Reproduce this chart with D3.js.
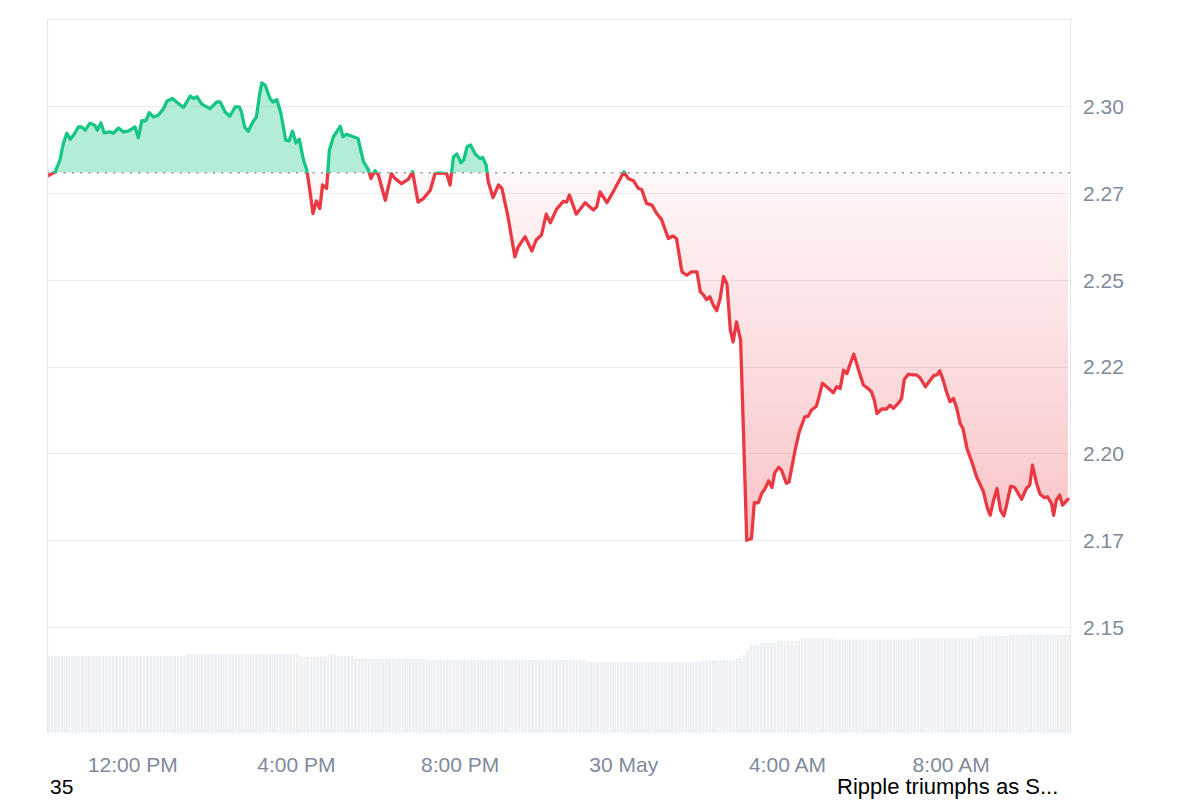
<!DOCTYPE html>
<html>
<head>
<meta charset="utf-8">
<script src="https://cdn.jsdelivr.net/npm/d3@7"></script>
<style>
  html, body { margin: 0; padding: 0; background: #ffffff; }
  svg { display: block; font-family: "Liberation Sans", Arial, Helvetica, sans-serif; }
</style>
</head>
<body>
<svg id="chart" width="1200" height="800"></svg>
<script>
// ---------------- DATA ----------------
const startTime = new Date(2025, 4, 29, 9, 55);   // 29 May, 09:55
const spanMinutes = 1500;
const refPrice = 2.2808;                          // dotted reference (open) price

// minutes after startTime
const minutes = [
  0, 12, 19, 24, 29, 34, 39, 46, 51, 56, 63, 70, 74, 79, 84, 92, 97, 105, 112, 119,
  129, 134, 139, 145, 150, 156, 163, 171, 176, 184, 190, 200, 210, 215, 220, 227, 239, 249, 254, 261,
  268, 276, 282, 285, 290, 295, 302, 307, 312, 315, 320, 327, 331, 337, 343, 350, 355, 360, 365, 370,
  376, 381, 386, 390, 395, 400, 404, 410, 414, 420, 430, 434, 439, 449, 456, 464, 471, 475, 481, 486,
  496, 505, 510, 520, 530, 536, 544, 552, 562, 569, 576, 586, 591, 596, 601, 607, 611, 616, 621, 628,
  635, 639, 644, 647, 654, 662, 667, 676, 686, 691, 701, 711, 717, 725, 732, 738, 747, 757, 762, 766,
  776, 789, 801, 806, 811, 821, 830, 846, 852, 860, 867, 872, 879, 887, 894, 901, 911, 918, 923, 931,
  938, 945, 953, 958, 962, 967, 972, 977, 982, 987, 992, 997, 1002, 1006, 1011, 1017, 1021, 1026, 1033, 1037,
  1043, 1048, 1053, 1058, 1063, 1067, 1073, 1077, 1084, 1088, 1097, 1103, 1111, 1116, 1121, 1128, 1132, 1137, 1146, 1153,
  1158, 1163, 1168, 1173, 1177, 1183, 1190, 1197, 1204, 1209, 1213, 1217, 1224, 1231, 1236, 1241, 1248, 1253, 1257, 1263,
  1270, 1275, 1280, 1288, 1295, 1300, 1305, 1309, 1314, 1319, 1324, 1329, 1334, 1339, 1343, 1349, 1356, 1363, 1373, 1379,
  1383, 1388, 1393, 1398, 1403, 1407, 1413, 1419, 1429, 1436, 1441, 1445, 1451, 1456, 1462, 1467, 1473, 1476, 1480, 1485,
  1489, 1497
];

// price (USD) at each time above
const prices = [
  2.2798, 2.2811, 2.2845, 2.2893, 2.2922, 2.2905, 2.2917, 2.2940, 2.2940, 2.2931, 2.2951, 2.2945, 2.2931, 2.2952, 2.2923, 2.2926, 2.2922, 2.2937, 2.2926, 2.2928,
  2.2940, 2.2909, 2.2958, 2.2958, 2.2981, 2.2969, 2.2974, 2.2993, 2.3015, 2.3022, 2.3012, 2.2996, 2.3029, 2.3022, 2.3027, 2.3006, 2.2993, 2.3012, 2.3012, 2.2984,
  2.2971, 2.2998, 2.2998, 2.2984, 2.2939, 2.2928, 2.2955, 2.2969, 2.3037, 2.3067, 2.3060, 2.3022, 2.3012, 2.3019, 2.2979, 2.2902, 2.2900, 2.2928, 2.2894, 2.2905,
  2.2845, 2.2816, 2.2749, 2.2691, 2.2727, 2.2705, 2.2773, 2.2763, 2.2873, 2.2912, 2.2942, 2.2912, 2.2919, 2.2912, 2.2907, 2.2840, 2.2818, 2.2792, 2.2814, 2.2801,
  2.2729, 2.2806, 2.2792, 2.2777, 2.2790, 2.2811, 2.2724, 2.2734, 2.2758, 2.2806, 2.2808, 2.2806, 2.2773, 2.2854, 2.2862, 2.2837, 2.2845, 2.2883, 2.2888, 2.2862,
  2.2849, 2.2852, 2.2830, 2.2782, 2.2737, 2.2773, 2.2763, 2.2681, 2.2566, 2.2595, 2.2624, 2.2583, 2.2614, 2.2629, 2.2689, 2.2664, 2.2703, 2.2726, 2.2724, 2.2744,
  2.2689, 2.2722, 2.2701, 2.2710, 2.2753, 2.2722, 2.2753, 2.2811, 2.2792, 2.2785, 2.2763, 2.2760, 2.2720, 2.2715, 2.2691, 2.2674, 2.2619, 2.2626, 2.2619, 2.2523,
  2.2513, 2.2523, 2.2523, 2.2465, 2.2458, 2.2443, 2.2451, 2.2427, 2.2411, 2.2446, 2.2509, 2.2488, 2.2355, 2.2321, 2.2379, 2.2326, 2.2077, 2.1750, 2.1755, 2.1858,
  2.1858, 2.1885, 2.1899, 2.1921, 2.1902, 2.1944, 2.1960, 2.1952, 2.1914, 2.1918, 2.2010, 2.2062, 2.2105, 2.2107, 2.2125, 2.2136, 2.2163, 2.2202, 2.2187, 2.2175,
  2.2192, 2.2187, 2.2240, 2.2230, 2.2254, 2.2286, 2.2240, 2.2197, 2.2187, 2.2177, 2.2154, 2.2115, 2.2128, 2.2128, 2.2139, 2.2130, 2.2144, 2.2158, 2.2213, 2.2228,
  2.2226, 2.2226, 2.2218, 2.2192, 2.2211, 2.2224, 2.2226, 2.2238, 2.2211, 2.2177, 2.2149, 2.2158, 2.2130, 2.2086, 2.2072, 2.2014, 2.1976, 2.1933, 2.1890, 2.1842,
  2.1822, 2.1866, 2.1899, 2.1837, 2.1820, 2.1851, 2.1906, 2.1902, 2.1868, 2.1899, 2.1909, 2.1966, 2.1914, 2.1883, 2.1873, 2.1875, 2.1856, 2.1822, 2.1866, 2.1880,
  2.1851, 2.1868
];

// 5-minute volume bars (billions), one row per hour starting at startTime
const volumes = [
  1.54,1.54,1.54,1.54,1.54,1.54,1.54,1.54,1.54,1.54,1.54,1.54,
  1.54,1.54,1.54,1.54,1.54,1.54,1.54,1.54,1.54,1.54,1.54,1.54,
  1.54,1.54,1.54,1.54,1.54,1.54,1.54,1.54,1.54,1.54,1.54,1.54,
  1.54,1.54,1.54,1.54,1.54,1.58,1.58,1.58,1.58,1.58,1.58,1.58,
  1.58,1.58,1.58,1.58,1.58,1.58,1.58,1.58,1.58,1.58,1.58,1.58,
  1.58,1.58,1.58,1.58,1.58,1.58,1.58,1.58,1.58,1.58,1.58,1.58,
  1.58,1.58,1.53,1.53,1.53,1.53,1.53,1.53,1.53,1.53,1.53,1.57,
  1.57,1.54,1.54,1.54,1.54,1.54,1.49,1.49,1.49,1.49,1.49,1.49,
  1.49,1.49,1.49,1.49,1.49,1.49,1.49,1.49,1.49,1.49,1.49,1.49,
  1.49,1.49,1.49,1.46,1.46,1.46,1.46,1.46,1.46,1.46,1.46,1.46,
  1.46,1.46,1.46,1.46,1.46,1.46,1.46,1.46,1.46,1.46,1.46,1.46,
  1.46,1.46,1.46,1.46,1.46,1.46,1.46,1.46,1.46,1.46,1.46,1.46,
  1.46,1.46,1.46,1.46,1.46,1.46,1.46,1.46,1.46,1.46,1.46,1.46,
  1.46,1.46,1.42,1.42,1.42,1.42,1.42,1.42,1.42,1.42,1.42,1.42,
  1.42,1.42,1.42,1.42,1.42,1.42,1.42,1.42,1.42,1.42,1.42,1.42,
  1.42,1.42,1.42,1.42,1.42,1.42,1.42,1.42,1.42,1.42,1.42,1.42,
  1.45,1.45,1.45,1.45,1.45,1.45,1.45,1.45,1.45,1.45,1.50,1.50,
  1.56,1.66,1.76,1.76,1.76,1.81,1.81,1.81,1.81,1.81,1.85,1.85,
  1.85,1.85,1.85,1.85,1.85,1.89,1.89,1.89,1.89,1.89,1.89,1.89,
  1.89,1.89,1.89,1.87,1.87,1.87,1.87,1.87,1.87,1.87,1.87,1.87,
  1.87,1.87,1.87,1.87,1.87,1.87,1.87,1.87,1.87,1.87,1.87,1.87,
  1.87,1.87,1.89,1.89,1.89,1.89,1.89,1.89,1.89,1.89,1.89,1.89,
  1.89,1.89,1.89,1.89,1.89,1.89,1.89,1.89,1.89,1.94,1.94,1.94,
  1.94,1.94,1.94,1.94,1.94,1.94,1.97,1.97,1.97,1.97,1.97,1.97,
  1.97,1.97,1.97,1.97,1.97,1.97,1.97,1.97,1.97,1.97,1.97,1.97
];
const volumeStepMinutes = 5;

const yTickValues = [2.15, 2.175, 2.20, 2.225, 2.25, 2.275, 2.30];
const yTickLabels = ["2.15", "2.17", "2.20", "2.22", "2.25", "2.27", "2.30"];

const newsCount = "35";
const newsHeadline = "Ripple triumphs as S...";

// ---------------- LAYOUT ----------------
const L = 47, R = 1070, T = 19, B = 733;
const green = "#16c784", red = "#ea3943";

const svg = d3.select("#chart");
const toDate = m => new Date(startTime.getTime() + m * 60000);

const x = d3.scaleTime()
  .domain([startTime, toDate(spanMinutes)])
  .range([L, R]);
const y = d3.scaleLinear()
  .domain([2.1195, 2.3251])
  .range([B, T]);
const yVol = d3.scaleLinear()
  .domain([0, 14.28])
  .range([B, T]);

const data = minutes.map((m, i) => ({ t: toDate(m), p: prices[i] }));
const yBase = y(refPrice);

const defs = svg.append("defs");
defs.append("clipPath").attr("id", "clipUp")
  .append("rect").attr("x", L).attr("y", T - 5).attr("width", R - L).attr("height", yBase - T + 5);
defs.append("clipPath").attr("id", "clipDown")
  .append("rect").attr("x", L).attr("y", yBase).attr("width", R - L).attr("height", B - yBase);

const minP = d3.min(prices);
const grad = defs.append("linearGradient").attr("id", "redGrad")
  .attr("gradientUnits", "userSpaceOnUse")
  .attr("x1", 0).attr("x2", 0).attr("y1", yBase).attr("y2", y(minP));
grad.append("stop").attr("offset", "0%").attr("stop-color", red).attr("stop-opacity", 0.04);
grad.append("stop").attr("offset", "100%").attr("stop-color", red).attr("stop-opacity", 0.3);

// gridlines
svg.append("g").selectAll("line").data(yTickValues).join("line")
  .attr("x1", L).attr("x2", R)
  .attr("y1", d => Math.round(y(d)) + 0.5).attr("y2", d => Math.round(y(d)) + 0.5)
  .attr("stroke", "#ececef").attr("stroke-width", 1.2);

// volume bars
const step = (x(toDate(volumeStepMinutes)) - x(startTime));
svg.append("g").selectAll("rect").data(volumes).join("rect")
  .attr("x", (d, i) => x(toDate(i * volumeStepMinutes)))
  .attr("width", step * 0.85)
  .attr("y", d => yVol(d))
  .attr("height", d => B - yVol(d))
  .attr("fill", "#eef1f4");

// areas
const area = d3.area().x(d => x(d.t)).y0(yBase).y1(d => y(d.p));
svg.append("path").datum(data).attr("d", area)
  .attr("fill", green).attr("fill-opacity", 0.32).attr("clip-path", "url(#clipUp)");
svg.append("path").datum(data).attr("d", area)
  .attr("fill", "url(#redGrad)").attr("clip-path", "url(#clipDown)");

// reference dotted line
svg.append("line")
  .attr("x1", L).attr("x2", R).attr("y1", yBase).attr("y2", yBase)
  .attr("stroke", "#8d8f99").attr("stroke-width", 1.5).attr("stroke-dasharray", "2,6.3");

// price line
const line = d3.line().x(d => x(d.t)).y(d => y(d.p));
svg.append("path").datum(data).attr("d", line)
  .attr("fill", "none").attr("stroke", green).attr("stroke-width", 3.3)
  .attr("stroke-linejoin", "round").attr("stroke-linecap", "round")
  .attr("clip-path", "url(#clipUp)");
svg.append("path").datum(data).attr("d", line)
  .attr("fill", "none").attr("stroke", red).attr("stroke-width", 3.3)
  .attr("stroke-linejoin", "round").attr("stroke-linecap", "round")
  .attr("clip-path", "url(#clipDown)");

// frame
svg.append("path")
  .attr("d", `M${L + 0.5},${B} V${T + 0.5} H${R + 0.5} V${B}`)
  .attr("fill", "none").attr("stroke", "#e6e7ea").attr("stroke-width", 1.2);

// y axis labels (right)
const yAxis = d3.axisRight(y).tickValues(yTickValues)
  .tickFormat((d, i) => yTickLabels[i]).tickSize(0).tickPadding(0);
const gy = svg.append("g").attr("transform", `translate(${R + 13},0)`).call(yAxis);
gy.select(".domain").remove();
gy.selectAll("text").attr("fill", "#808a9d").attr("font-size", 21)
  .attr("font-family", "'Liberation Sans', Arial, sans-serif").attr("dy", "0.35em").attr("x", 0);

// x axis labels
const fmtX = d => (d.getHours() === 0 ? d3.timeFormat("%-d %B")(d) : d3.timeFormat("%-I:%M %p")(d));
const xAxis = d3.axisBottom(x).ticks(d3.timeHour.every(4)).tickFormat(fmtX).tickSize(0).tickPadding(0);
const gx = svg.append("g").attr("transform", `translate(0,${B})`).call(xAxis);
gx.select(".domain").remove();
gx.selectAll("text").attr("fill", "#808a9d").attr("font-size", 21)
  .attr("font-family", "'Liberation Sans', Arial, sans-serif").attr("dy", 0).attr("y", 39);

// bottom news labels
svg.append("text").attr("x", 50).attr("y", 794).attr("font-size", 21).attr("fill", "#000").text(newsCount);
svg.append("text").attr("x", 837).attr("y", 794)
  .attr("font-size", 22).attr("fill", "#000").text(newsHeadline);
</script>
</body>
</html>
